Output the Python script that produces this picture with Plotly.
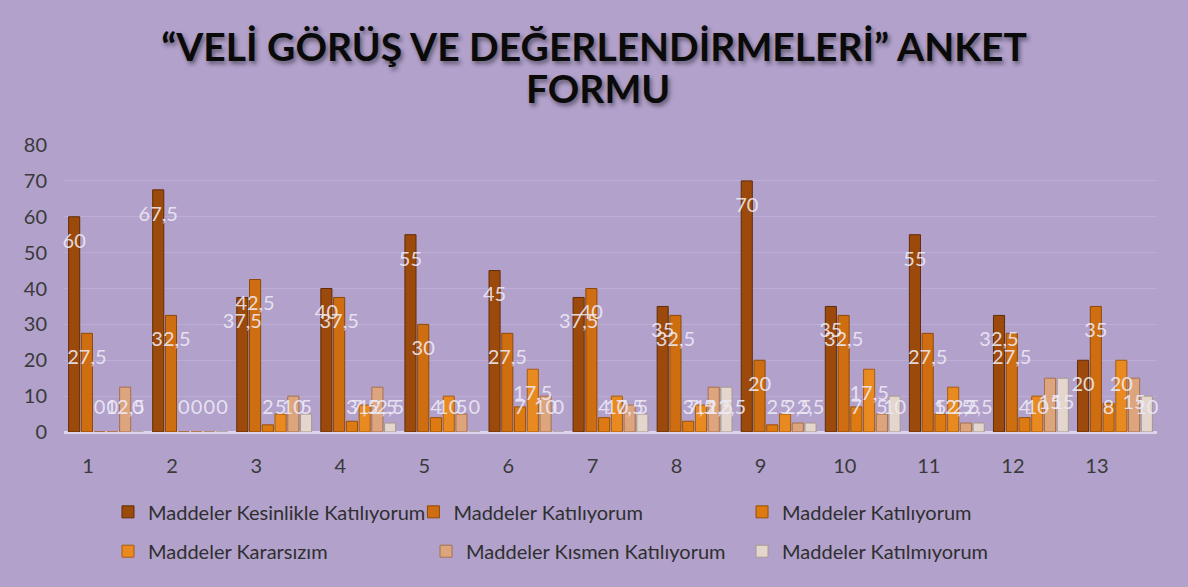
import plotly.graph_objects as go

categories = ["1", "2", "3", "4", "5", "6", "7", "8", "9", "10", "11", "12", "13"]
series_names = [
    "Maddeler Kesinlikle Katılıyorum",
    "Maddeler Katılıyorum",
    "Maddeler Katılıyorum",
    "Maddeler Kararsızım",
    "Maddeler Kısmen Katılıyorum",
    "Maddeler Katılmıyorum",
]
kesinlikle = [60, 67.5, 37.5, 40, 55, 45, 37.5, 35, 70, 35, 55, 32.5, 20]
katiliyorum_a = [27.5, 32.5, 42.5, 37.5, 30, 27.5, 40, 32.5, 20, 32.5, 27.5, 27.5, 35]
katiliyorum_b = [0, 0, 2, 3, 4, 7, 4, 3, 2, 7, 5, 4, 8]
kararsizim = [0, 0, 5, 7.5, 10, 17.5, 10, 7.5, 5, 17.5, 12.5, 10, 20]
kismen = [12.5, 0, 10, 12.5, 5, 10, 7.5, 12.5, 2.5, 5, 2.5, 15, 15]
katilmiyorum = [0, 0, 5, 2.5, 0, 0, 5, 12.5, 2.5, 10, 2.5, 15, 10]
y_ticks = [0, 10, 20, 30, 40, 50, 60, 70, 80]
title_lines = ["“VELİ GÖRÜŞ VE DEĞERLENDİRMELERİ” ANKET", "FORMU"]

series_values = [kesinlikle, katiliyorum_a, katiliyorum_b, kararsizim, kismen, katilmiyorum]
colors = ["#9C4A0C", "#CF6E10", "#DE7A12", "#E98A20", "#DDA57E", "#E4D6CC"]
edge_colors = ["#622C05", "#8E4808", "#9A5008", "#A85C10", "#A6704E", "#A89890"]

BG = "#B1A1CB"
FONT = "Lato"
BARGAP = 0.09
GROUPGAP = 0.13
n = len(series_values)
slot = (1 - BARGAP) / n

def fmt(v):
    s = ("%g" % v)
    return s.replace(".", ",")

fig = go.Figure()
xs = list(range(len(categories)))
legend_pos = [
    (0.0909, 0.128), (0.3480, 0.128), (0.6246, 0.128),
    (0.0909, 0.061), (0.3586, 0.061), (0.6246, 0.061),
]
for i, (name, vals) in enumerate(zip(series_names, series_values)):
    lg = "legend" if i == 0 else "legend%d" % (i + 1)
    fig.add_trace(go.Bar(
        x=xs, y=vals, name=name,
        marker=dict(color=colors[i], line=dict(color=edge_colors[i], width=1)),
        legend=lg,
    ))
# data labels
for i, vals in enumerate(series_values):
    off = -(1 - BARGAP) / 2 + slot * (i + 0.5)
    fig.add_trace(go.Scatter(
        x=[x + off for x in xs],
        y=[max(v - 7.2, 6.3) for v in vals],
        text=[fmt(v) for v in vals],
        mode="text",
        textposition="middle center",
        textfont=dict(family=FONT, size=20, color="rgba(238,234,246,0.9)"),
        showlegend=False,
        hoverinfo="skip",
        cliponaxis=False,
    ))

layout_legends = {}
for i, (lx, ly) in enumerate(legend_pos):
    key = "legend" if i == 0 else "legend%d" % (i + 1)
    layout_legends[key] = dict(
        x=lx, y=ly, xref="container", yref="container",
        xanchor="left", yanchor="middle",
        bgcolor="rgba(0,0,0,0)", itemwidth=30,
        font=dict(family=FONT, size=20, color="#2F2F2F"),
    )

title_font = dict(family=FONT, size=39, color="#0A0A0A", weight="bold",
                  shadow="2px 3px 4px rgba(0,0,0,0.45)")

fig.update_layout(
    width=1188, height=587,
    paper_bgcolor=BG, plot_bgcolor=BG,
    barmode="group", bargap=BARGAP, bargroupgap=GROUPGAP,
    margin=dict(l=64, r=31, t=145, b=155, autoexpand=False),
    title=dict(
        text=title_lines[0],
        x=0.5, xref="container", xanchor="center",
        y=1 - 47 / 587, yref="container", yanchor="middle",
        font=title_font,
    ),
    annotations=[dict(
        text=title_lines[1], x=0.4886, y=1.1986,
        xref="paper", yref="paper", xanchor="center", yanchor="middle",
        showarrow=False, font=title_font,
    )],
    xaxis=dict(
        range=[-0.5, len(categories) - 0.5],
        tickvals=xs, ticktext=categories,
        showgrid=False, zeroline=False, showline=False,
        ticks="", ticklabelshift=-18, ticklabelstandoff=20,
        tickfont=dict(family=FONT, size=20, color="#3A3A3A"),
    ),
    yaxis=dict(
        range=[0, 80], tickvals=y_ticks,
        showgrid=True, gridcolor="#BCAED6", gridwidth=1,
        zeroline=True, zerolinecolor="#DDD5EC", zerolinewidth=3,
        ticks="", ticklabelstandoff=16,
        tickfont=dict(family=FONT, size=20, color="#3A3A3A"),
    ),
    **layout_legends,
)

fig.write_html("out.html", config={"displayModeBar": False},
               post_script="document.body.style.margin='0';")
